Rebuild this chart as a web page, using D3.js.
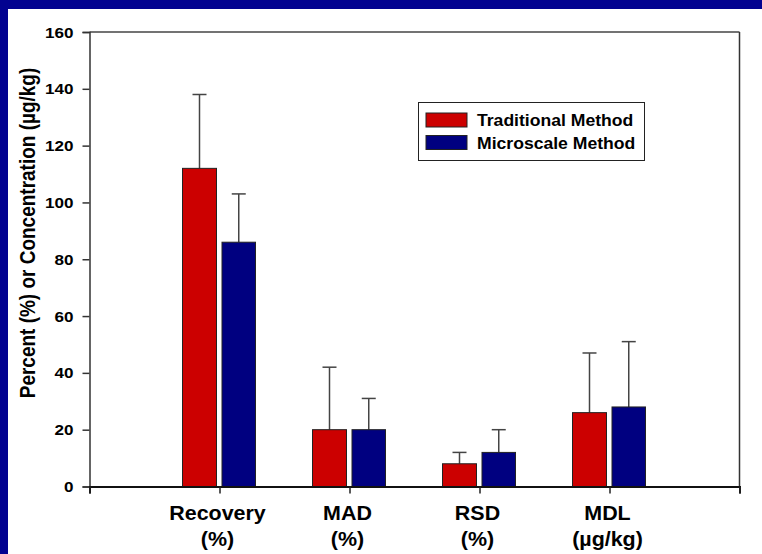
<!DOCTYPE html>
<html>
<head>
<meta charset="utf-8">
<script src="https://cdn.jsdelivr.net/npm/d3@7"></script>
<style>
  html, body { margin: 0; padding: 0; background: #fff; }
  svg { display: block; }
  text { font-family: "Liberation Sans", Arial, sans-serif; font-weight: bold; fill: #000; }
</style>
</head>
<body>
<script>
// ---- data ----
const categoryNames = ["Recovery", "MAD", "RSD", "MDL"];
const categoryUnits = ["(%)", "(%)", "(%)", "(µg/kg)"];
const categoryPositions = [1, 2, 3, 4];
const seriesNames = ["Traditional Method", "Microscale Method"];
const traditional = [112, 20, 8, 26];
const traditionalErr = [26, 22, 4, 21];
const microscale = [86, 20, 12, 28];
const microscaleErr = [17, 11, 8, 23];
const yTicks = [0, 20, 40, 60, 80, 100, 120, 140, 160];
const xTicks = [0, 1, 2, 3, 4, 5];
const yTitle = "Percent (%) or Concentration (µg/kg)";

// ---- setup ----
const W = 762, H = 554;
const svg = d3.select("body").append("svg").attr("width", W).attr("height", H);
svg.append("rect").attr("width", W).attr("height", H).attr("fill", "#fff");
const BLUE_BG = "#020290";
svg.append("rect").attr("x", 0).attr("y", 0).attr("width", W).attr("height", 9).attr("fill", BLUE_BG);
svg.append("rect").attr("x", 0).attr("y", 0).attr("width", 8).attr("height", H).attr("fill", BLUE_BG);

const x = d3.scaleLinear().domain([0, 5]).range([89.5, 739.5]);
const y = d3.scaleLinear().domain([0, 160]).range([486.5, 32]);
const SX = 1.1; // horizontal text stretch

// frame top & right
svg.append("line").attr("x1", x(0)).attr("x2", x(5)).attr("y1", y(160)).attr("y2", y(160))
  .attr("stroke", "#444").attr("stroke-width", 1.5);
svg.append("line").attr("x1", x(5)).attr("x2", x(5)).attr("y1", y(160)).attr("y2", y(0))
  .attr("stroke", "#333").attr("stroke-width", 1.5);

// bars
const series = [
  { name: seriesNames[0], vals: traditional, errs: traditionalErr, color: "#CC0000", off: -37, w: 34 },
  { name: seriesNames[1], vals: microscale, errs: microscaleErr, color: "#000080", off: 2.5, w: 33.5 }
];
series.forEach(s => {
  const g = svg.append("g");
  const data = categoryPositions.map((p, i) => ({ p, v: s.vals[i], e: s.errs[i] }));
  // error bars
  g.selectAll("line.err").data(data).enter().append("line")
    .attr("x1", d => x(d.p) + s.off + s.w / 2).attr("x2", d => x(d.p) + s.off + s.w / 2)
    .attr("y1", d => y(d.v)).attr("y2", d => y(d.v + d.e))
    .attr("stroke", "#444").attr("stroke-width", 1.5);
  g.selectAll("line.cap").data(data).enter().append("line")
    .attr("x1", d => x(d.p) + s.off + s.w / 2 - 7).attr("x2", d => x(d.p) + s.off + s.w / 2 + 7)
    .attr("y1", d => y(d.v + d.e)).attr("y2", d => y(d.v + d.e))
    .attr("stroke", "#444").attr("stroke-width", 1.5);
  g.selectAll("rect").data(data).enter().append("rect")
    .attr("x", d => x(d.p) + s.off).attr("width", s.w)
    .attr("y", d => y(d.v)).attr("height", d => y(0) - y(d.v))
    .attr("fill", s.color).attr("stroke", "#222").attr("stroke-width", 1);
});

// y axis
const yAxis = svg.append("g").attr("transform", `translate(${x(0)},0)`)
  .call(d3.axisLeft(y).tickValues(yTicks).tickSize(7).tickFormat(""));
yAxis.select(".domain").attr("stroke", "#333").attr("stroke-width", 1.5);
yAxis.selectAll(".tick line").attr("stroke", "#333").attr("stroke-width", 1.5);
svg.append("g").selectAll("text").data(yTicks).enter().append("text")
  .attr("transform", d => `translate(73.5,${y(d) + 5.5}) scale(${SX},1)`)
  .attr("text-anchor", "end").attr("font-size", "15.5px").text(d => d);

// x axis
const xAxis = svg.append("g").attr("transform", `translate(0,${y(0)})`)
  .call(d3.axisBottom(x).tickValues(xTicks).tickSize(7).tickFormat(""));
xAxis.select(".domain").attr("stroke", "#111").attr("stroke-width", 2);
xAxis.selectAll(".tick line").attr("stroke", "#222").attr("stroke-width", 1.5);

const xl = svg.append("g");
xl.selectAll("text.n").data(categoryPositions).enter().append("text")
  .attr("transform", d => `translate(${x(d) - 2},520) scale(${SX},1)`)
  .attr("text-anchor", "middle").attr("font-size", "19.5px").text((d, i) => categoryNames[i]);
xl.selectAll("text.u").data(categoryPositions).enter().append("text")
  .attr("transform", d => `translate(${x(d) - 2},546) scale(${SX},1)`)
  .attr("text-anchor", "middle").attr("font-size", "19.5px").text((d, i) => categoryUnits[i]);

// y title
svg.append("text")
  .attr("transform", `translate(34.5,233) rotate(-90) scale(1,1.2)`)
  .attr("text-anchor", "middle").attr("font-size", "19px").text(yTitle);

// legend
const lg = svg.append("g");
lg.append("rect").attr("x", 418.5).attr("y", 102.5).attr("width", 226).attr("height", 58)
  .attr("fill", "#fff").attr("stroke", "#222").attr("stroke-width", 1);
series.forEach((s, i) => {
  const yy = 113 + i * 22.5;
  lg.append("rect").attr("x", 426).attr("y", yy).attr("width", 41).attr("height", 14)
    .attr("fill", s.color).attr("stroke", "#222").attr("stroke-width", 1);
  lg.append("text").attr("transform", `translate(477,${yy + 13}) scale(${SX},1)`)
    .attr("font-size", "16px").text(s.name);
});
</script>
</body>
</html>
